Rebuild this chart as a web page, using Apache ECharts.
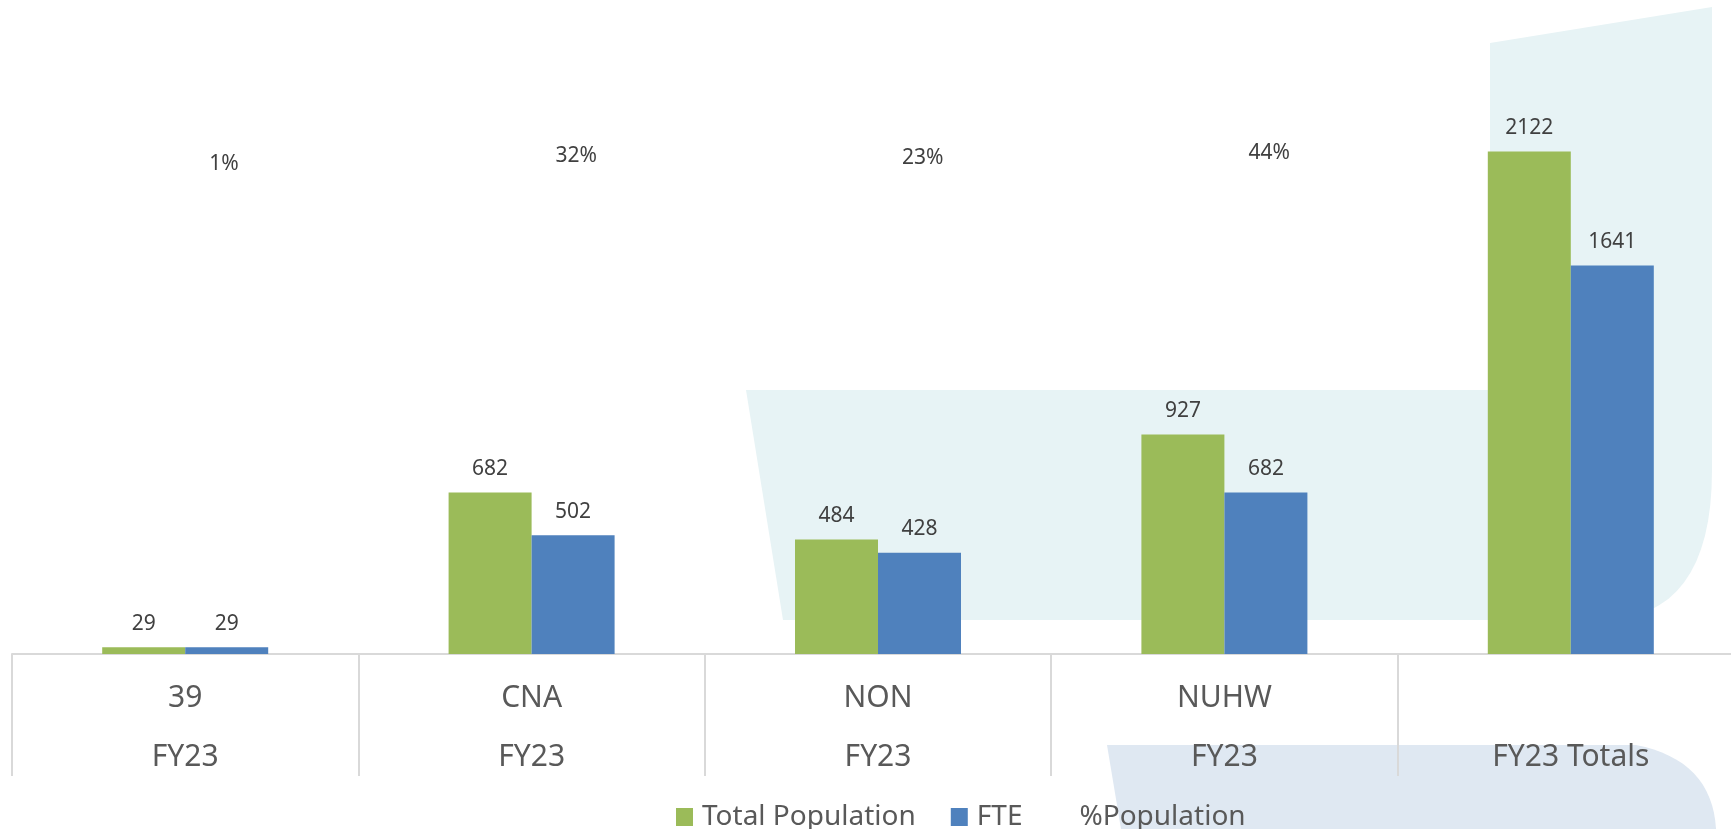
<!DOCTYPE html>
<html>
<head>
<meta charset="utf-8">
<title>FY23 Population</title>
<script src="https://cdn.jsdelivr.net/npm/echarts@6/dist/echarts.min.js"></script>
<style>
  html, body { margin: 0; padding: 0; background: #fff; }
  #chart { width: 1731px; height: 829px; }
</style>
</head>
<body>
<div id="chart"></div>
<script>
// data
const categories = ['39', 'CNA', 'NON', 'NUHW', ''];
const periods = ['FY23', 'FY23', 'FY23', 'FY23', 'FY23 Totals'];
const totalPopulation = [29, 682, 484, 927, 2122];
const fte = [29, 502, 428, 682, 1641];
const pctPopulation = [0.01, 0.32, 0.23, 0.44, null];

const FONT = '"Noto Sans", "Open Sans", sans-serif';

// sample a quadratic curve for the background decoration
function quad(p0, c, p1, n) {
  const pts = [];
  for (let i = 1; i <= n; i++) {
    const t = i / n, u = 1 - t;
    pts.push([u * u * p0[0] + 2 * u * t * c[0] + t * t * p1[0],
              u * u * p0[1] + 2 * u * t * c[1] + t * t * p1[1]]);
  }
  return pts;
}

const tealShape = [[746, 390], [1490, 390], [1490, 43], [1712, 7], [1712, 470]]
  .concat(quad([1712, 470], [1712, 620], [1600, 620], 16))
  .concat([[783, 620]]);
const blueShape = [[1107, 745], [1636, 745]]
  .concat(quad([1636, 745], [1712, 760], [1716, 829], 16))
  .concat([[1121, 829]]);

const chart = echarts.init(document.getElementById('chart'));
chart.setOption({
  backgroundColor: '#fff',
  animation: false,
  textStyle: { fontFamily: FONT },
  graphic: {
    elements: [
      { type: 'polygon', z: -10, silent: true, shape: { points: tealShape }, style: { fill: '#e7f3f5' } },
      { type: 'polygon', z: -10, silent: true, shape: { points: blueShape }, style: { fill: '#dfe8f2' } }
    ]
  },
  // plot runs past the right edge, as in the reference
  grid: { left: 12, width: 1732, top: 62, bottom: 175, containLabel: false, outerBoundsMode: 'none' },
  legend: {
    left: 671,
    top: 798,
    itemWidth: 17,
    itemHeight: 18,
    itemGap: 35,
    textStyle: { fontSize: 28, color: '#595959', fontFamily: FONT, padding: [0, 0, 0, 4] },
    data: [
      { name: 'Total Population', icon: 'rect' },
      { name: 'FTE', icon: 'rect' },
      { name: '%Population', icon: 'rect', itemStyle: { opacity: 0 }, lineStyle: { opacity: 0 },
        textStyle: { padding: [0, 0, 0, 0] } }
    ]
  },
  xAxis: {
    type: 'category',
    data: categories.map((c, i) => c + '\n' + periods[i]),
    axisLine: { lineStyle: { color: '#d9d9d9', width: 2 } },
    axisTick: { show: true, length: 122, alignWithLabel: false, lineStyle: { color: '#d9d9d9', width: 2 } },
    axisLabel: {
      interval: 0,
      margin: 15,
      fontSize: 30,
      lineHeight: 59,
      color: '#595959',
      fontFamily: FONT
    }
  },
  yAxis: [
    { type: 'value', min: 0, max: 2500, show: false, splitLine: { show: false } },
    { type: 'value', min: -18.83, max: 3.93, show: false, splitLine: { show: false } }
  ],
  series: [
    {
      name: 'Total Population',
      type: 'bar',
      data: totalPopulation,
      barWidth: 83,
      barGap: '0%',
      itemStyle: { color: '#9bbb59' },
      label: { show: true, position: 'top', distance: 13, fontSize: 21, lineHeight: 21, color: '#404040', fontFamily: FONT }
    },
    {
      name: 'FTE',
      type: 'bar',
      data: fte,
      barWidth: 83,
      barGap: '0%',
      itemStyle: { color: '#4f81bd' },
      label: { show: true, position: 'top', distance: 13, fontSize: 21, lineHeight: 21, color: '#404040', fontFamily: FONT }
    },
    {
      name: '%Population',
      type: 'line',
      yAxisIndex: 1,
      data: pctPopulation,
      showSymbol: true,
      symbol: 'circle',
      symbolSize: 2,
      lineStyle: { width: 0, opacity: 0 },
      itemStyle: { color: 'rgba(0,0,0,0)' },
      label: {
        show: true,
        position: 'right',
        distance: 23,
        fontSize: 21,
        color: '#404040',
        fontFamily: FONT,
        formatter: p => Math.round(p.value * 100) + '%'
      }
    }
  ]
});
</script>
</body>
</html>
